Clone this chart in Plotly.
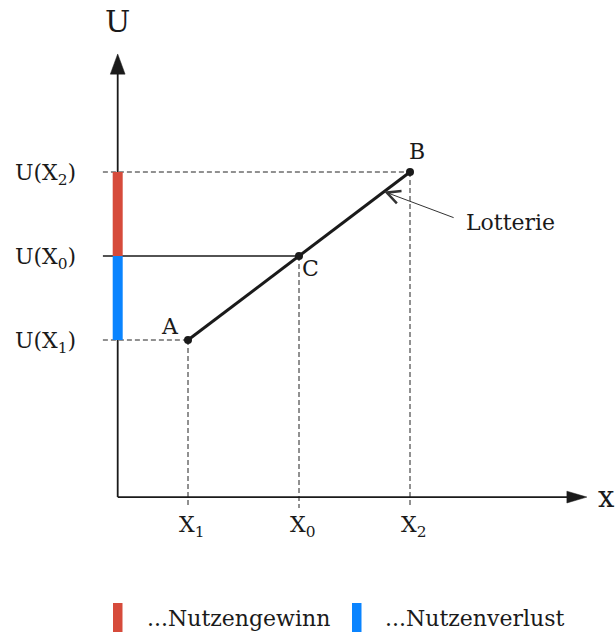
import plotly.graph_objects as go

# Outcomes (x) and their utilities (U)
x_names = ["X<sub>1</sub>", "X<sub>0</sub>", "X<sub>2</sub>"]
x_vals = [2.0, 5.0, 8.0]
u_names = ["U(X<sub>1</sub>)", "U(X<sub>0</sub>)", "U(X<sub>2</sub>)"]
u_vals = [4.0, 6.0, 8.0]
point_names = ["A", "C", "B"]

legend_names = ["...Nutzengewinn", "...Nutzenverlust"]
legend_colors = ["#d64b3b", "#0a84ff"]

# axis frame
x_orig, u_orig = 0.1, 0.26
x_tip, u_tip = 12.78, 10.81
x_left_ext = -0.30          # reference lines reach slightly left of the U axis
u_below = 0.0               # dashed drops reach slightly below the x axis

FONT = "DejaVu Serif"
INK = "#1a1a1a"
DASH = "#222222"

fig = go.Figure()

# dashed reference lines
for xv, uv, nm in zip(x_vals, u_vals, point_names):
    fig.add_trace(go.Scatter(x=[xv, xv], y=[uv, u_below], mode="lines",
                             line=dict(color=DASH, width=1, dash="5px,3px"),
                             hoverinfo="skip", showlegend=False))
    if nm != "C":
        fig.add_trace(go.Scatter(x=[x_left_ext, xv], y=[uv, uv], mode="lines",
                                 line=dict(color=DASH, width=1, dash="5px,3px"),
                                 hoverinfo="skip", showlegend=False))
# solid line at U(X0)
fig.add_trace(go.Scatter(x=[x_left_ext, x_vals[1]], y=[u_vals[1], u_vals[1]], mode="lines",
                         line=dict(color=INK, width=1.6), hoverinfo="skip", showlegend=False))

# axes with arrowheads
fig.add_trace(go.Scatter(x=[x_orig, x_tip - 0.3], y=[u_orig, u_orig], mode="lines",
                         line=dict(color=INK, width=1.8), hoverinfo="skip", showlegend=False))
fig.add_trace(go.Scatter(x=[x_orig, x_orig], y=[u_orig, u_tip - 0.3], mode="lines",
                         line=dict(color=INK, width=1.8), hoverinfo="skip", showlegend=False))
ah_x_len, ah_x_half = 0.54, 0.14
fig.add_trace(go.Scatter(x=[x_tip, x_tip - ah_x_len, x_tip - ah_x_len, x_tip],
                         y=[u_orig, u_orig + ah_x_half, u_orig - ah_x_half, u_orig],
                         fill="toself", fillcolor=INK, mode="lines", line=dict(color=INK, width=0.5),
                         hoverinfo="skip", showlegend=False))
ah_u_len, ah_u_half = 0.48, 0.2
fig.add_trace(go.Scatter(x=[x_orig, x_orig - ah_u_half, x_orig + ah_u_half, x_orig],
                         y=[u_tip, u_tip - ah_u_len, u_tip - ah_u_len, u_tip],
                         fill="toself", fillcolor=INK, mode="lines", line=dict(color=INK, width=0.5),
                         hoverinfo="skip", showlegend=False))

# utility gain / loss bars on the U axis
fig.add_trace(go.Scatter(x=[x_orig, x_orig], y=[u_vals[1], u_vals[2]], mode="lines",
                         line=dict(color=legend_colors[0], width=10),
                         hoverinfo="skip", showlegend=False))
fig.add_trace(go.Scatter(x=[x_orig, x_orig], y=[u_vals[0], u_vals[1]], mode="lines",
                         line=dict(color=legend_colors[1], width=10),
                         hoverinfo="skip", showlegend=False))

# lottery line A-B with points A, C, B
fig.add_trace(go.Scatter(x=[x_vals[0], x_vals[2]], y=[u_vals[0], u_vals[2]], mode="lines",
                         line=dict(color=INK, width=3), hoverinfo="skip", showlegend=False))
fig.add_trace(go.Scatter(x=x_vals, y=u_vals, mode="markers",
                         marker=dict(color=INK, size=8), hoverinfo="skip", showlegend=False))

ann = []
fsz = 22
# point labels
ann.append(dict(x=x_vals[0] - 0.49, y=u_vals[0] + 0.33, text="A"))
ann.append(dict(x=x_vals[1] + 0.30, y=u_vals[1] - 0.30, text="C"))
ann.append(dict(x=x_vals[2] + 0.20, y=u_vals[2] + 0.48, text="B"))
# axis titles (set larger than the other labels)
ann.append(dict(x=x_orig, y=11.58, text="U", size=30))
ann.append(dict(x=13.31, y=u_orig, text="x", size=29))
# x tick labels
for xv, nm in zip(x_vals, x_names):
    ann.append(dict(x=xv + 0.1, y=-0.45, text=nm))
# U tick labels
for uv, nm in zip(u_vals, u_names):
    ann.append(dict(x=-0.97, y=uv - 0.05, text=nm, xanchor="right"))
# Lotterie label
ann.append(dict(x=9.45, y=6.8, text="Lotterie", xanchor="left"))

for a in ann:
    a.setdefault("xanchor", "center")
    size = a.pop("size", fsz)
    a.update(xref="x", yref="y", showarrow=False, yanchor="middle",
             font=dict(family=FONT, size=size, color=INK))

# arrow pointing at the lottery line
arrow_x = 7.3
arrow_u = u_vals[0] + (arrow_x - x_vals[0]) * (u_vals[2] - u_vals[0]) / (x_vals[2] - x_vals[0])
ann.append(dict(x=arrow_x, y=arrow_u, ax=9.22, ay=6.9, xref="x", yref="y", axref="x", ayref="y",
                text="", showarrow=True, arrowhead=5, arrowsize=2.6, arrowwidth=1,
                arrowcolor="#333", standoff=0))

# legend at the bottom
shapes = []
leg_x = [113, 352]
leg_tx = [145, 383]
for lx, tx, nm, col in zip(leg_x, leg_tx, legend_names, legend_colors):
    shapes.append(dict(type="rect", xref="paper", yref="paper",
                       x0=lx / 615, x1=(lx + 9.5) / 615, y0=-0.01, y1=29 / 632,
                       fillcolor=col, line=dict(width=0)))
    ann.append(dict(x=tx / 615, y=(632 - 618) / 632, xref="paper", yref="paper",
                    text=nm, showarrow=False, xanchor="left", yanchor="middle",
                    font=dict(family=FONT, size=fsz, color=INK)))

fig.update_layout(
    width=615, height=632,
    margin=dict(l=0, r=0, t=0, b=0),
    paper_bgcolor="white", plot_bgcolor="white",
    xaxis=dict(range=[-114 / 37, (615 - 114) / 37], visible=False, fixedrange=True),
    yaxis=dict(range=[(508 - 632) / 42, 508 / 42], visible=False, fixedrange=True),
    annotations=ann, shapes=shapes, showlegend=False,
)

fig.write_html("out.html")
